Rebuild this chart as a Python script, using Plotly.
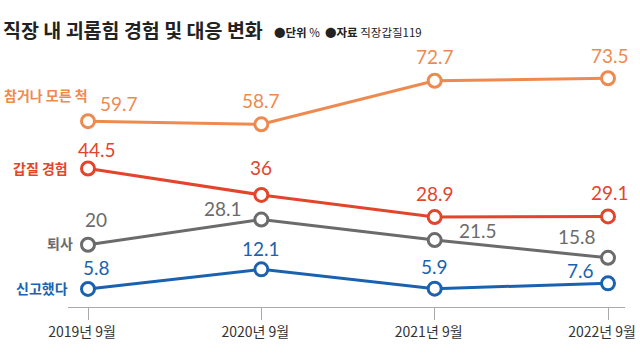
import plotly.graph_objects as go

categories = ["2019년 9월", "2020년 9월", "2021년 9월", "2022년 9월"]
series_names = ["참거나 모른 척", "갑질 경험", "퇴사", "신고했다"]
ignore_vals = [59.7, 58.7, 72.7, 73.5]
abuse_vals = [44.5, 36, 28.9, 29.1]
quit_vals = [20, 28.1, 21.5, 15.8]
report_vals = [5.8, 12.1, 5.9, 7.6]
title_text = "직장 내 괴롭힘 경험 및 대응 변화"
subtitle_text = "●<b>단위</b> %  ●<b>자료</b> 직장갑질119"

series = [ignore_vals, abuse_vals, quit_vals, report_vals]
colors = ["#EE8A50", "#E2442C", "#6B6B6B", "#1A62B0"]

# label offsets in pixels (xshift, yshift) for value labels
value_offsets = [
    [(31, 18), (0, 24), (0, 24), (2, 23)],
    [(9, 19), (0, 27), (0, 24), (2, 24)],
    [(8, 25), (-38, 11), (43, 10), (-31, 21)],
    [(8, 21), (0, 21), (0, 22), (-28, 13)],
]
name_offsets = [(2, 26), (-18, 0), (-13, 2), (-18, 1)]

xs = list(range(len(categories)))
fig = go.Figure()
annotations = []
for name, vals, col, voffs, noff in zip(series_names, series, colors, value_offsets, name_offsets):
    fig.add_trace(go.Scatter(
        x=xs, y=vals, mode="lines+markers",
        line=dict(color=col, width=3),
        marker=dict(size=13, color="white", line=dict(color=col, width=3)),
        hoverinfo="skip", showlegend=False, cliponaxis=False,
    ))
    for i, v in enumerate(vals):
        annotations.append(dict(
            x=i, y=v, xref="x", yref="y", text=f"{v:g}", showarrow=False,
            xanchor="center", yanchor="middle",
            xshift=voffs[i][0], yshift=voffs[i][1],
            font=dict(family="Lato", size=19, color=col),
        ))
    annotations.append(dict(
        x=0, y=vals[0], xref="x", yref="y", text=f"<b>{name}</b>", showarrow=False,
        xanchor="right", yanchor="middle", xshift=noff[0], yshift=noff[1],
        font=dict(family="Noto Sans CJK KR", size=14, color=col),
    ))

annotations.append(dict(
    x=0, y=1, xref="paper", yref="paper", text=f"<b>{title_text}</b>", showarrow=False,
    xanchor="left", yanchor="middle", xshift=-68 + 1, yshift=58 - 29,
    font=dict(family="Noto Sans CJK KR", size=19.5, color="#222222"),
))
annotations.append(dict(
    x=0, y=1, xref="paper", yref="paper", text=subtitle_text, showarrow=False,
    xanchor="left", yanchor="middle", xshift=-68 + 272, yshift=58 - 32,
    font=dict(family="Noto Sans CJK KR", size=11.5, color="#222222"),
))

fig.update_layout(
    width=640, height=353,
    margin=dict(l=68, r=15, t=58, b=46, autoexpand=False),
    paper_bgcolor="white", plot_bgcolor="white",
    annotations=annotations,
    xaxis=dict(
        range=[-0.1154, 3.098], tickmode="array", tickvals=xs, ticktext=categories,
        showgrid=False, zeroline=False, showline=True, linecolor="#AAAAAA", linewidth=1,
        ticks="outside", ticklen=12, tickcolor="#AAAAAA", tickwidth=1,
        ticklabeloverflow="allow", automargin=False, ticklabelshift=-6,
        tickfont=dict(family="Noto Sans CJK KR", size=14, color="#333333"),
        fixedrange=True,
    ),
    yaxis=dict(range=[0, 80], visible=False, fixedrange=True),
)

fig.write_html("out.html", config={"displayModeBar": False})
